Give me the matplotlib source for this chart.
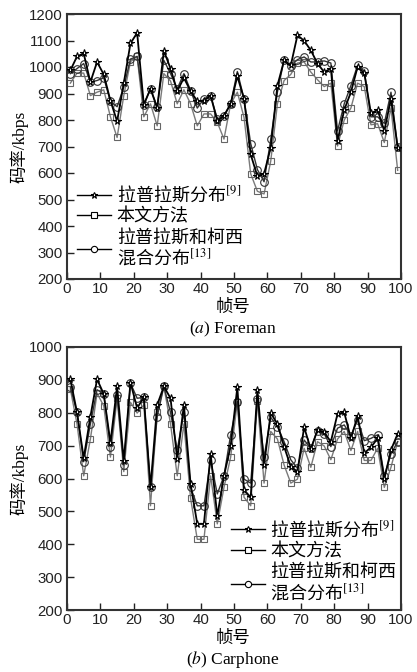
import matplotlib
matplotlib.use("Agg")
import matplotlib.pyplot as plt
from matplotlib.lines import Line2D

plt.rcParams['font.family'] = ['Liberation Sans', 'Noto Sans CJK SC']
plt.rcParams['mathtext.fontset'] = 'stix'

frames = list(range(1, 100, 2))

# (a) Foreman
fore_laplace = [987, 1040, 1051, 943, 1019, 972, 873, 795, 939, 1089,
                1129, 858, 918, 845, 1061, 994, 909, 959, 909, 871,
                873, 892, 797, 816, 861, 965, 880, 670, 588, 597,
                696, 930, 1025, 1006, 1120, 1099, 1063, 1013, 981, 994,
                721, 838, 905, 1000, 977, 825, 838, 759, 880, 696]
fore_ours = [939, 977, 977, 892, 905, 914, 812, 734, 892, 1020,
             1040, 812, 861, 778, 975, 947, 861, 914, 861, 778,
             823, 823, 791, 728, 861, 905, 810, 597, 531, 521,
             645, 861, 949, 972, 1015, 1019, 981, 952, 926, 939,
             702, 800, 845, 939, 926, 782, 786, 715, 846, 610]
fore_mixed = [975, 994, 1013, 943, 949, 959, 871, 850, 924, 1030,
              1040, 858, 918, 850, 1025, 975, 918, 975, 911, 845,
              880, 892, 804, 816, 861, 983, 880, 711, 613, 567,
              727, 905, 1028, 1003, 1028, 1038, 1019, 1019, 1023, 1015,
              759, 861, 930, 1006, 985, 812, 812, 787, 905, 698]

# (b) Carphone
car_laplace = [902, 801, 662, 788, 902, 857, 709, 880, 654, 892,
               814, 847, 573, 824, 880, 844, 659, 824, 583, 462,
               462, 675, 486, 608, 699, 878, 565, 543, 870, 641,
               799, 766, 697, 636, 621, 756, 689, 748, 740, 712,
               797, 801, 722, 790, 677, 695, 722, 598, 687, 736]
car_ours = [872, 766, 608, 720, 859, 821, 665, 844, 621, 832,
            799, 824, 517, 801, 880, 766, 608, 766, 540, 415,
            415, 608, 462, 573, 665, 834, 543, 517, 837, 586,
            743, 720, 641, 586, 598, 692, 634, 712, 699, 657,
            720, 743, 685, 743, 655, 655, 692, 573, 634, 712]
car_mixed = [878, 801, 651, 766, 870, 857, 697, 854, 641, 890,
             844, 847, 573, 788, 880, 801, 687, 801, 573, 517,
             517, 655, 553, 608, 733, 834, 598, 586, 841, 665,
             786, 758, 712, 657, 631, 717, 692, 746, 736, 697,
             753, 763, 730, 778, 715, 722, 733, 608, 675, 712]

labels = ['拉普拉斯分布$^{[9]}$', '本文方法', '拉普拉斯和柯西\n混合分布$^{[13]}$']
xticks = list(range(0, 101, 10))
captions = ['($\\mathit{a}$) Foreman', '($\\mathit{b}$) Carphone']

W, H = 417, 672
fig = plt.figure(figsize=(W / 100, H / 100), dpi=100)

def ax_rect(l, t, r, b):
    return [l / W, 1 - b / H, (r - l) / W, (b - t) / H]

ax1 = fig.add_axes(ax_rect(67, 14, 401, 279))
ax2 = fig.add_axes(ax_rect(67, 347, 401, 610))

star_kw = dict(color='black', lw=1.3, marker='*', ms=5.5, mfc='white', mec='black', mew=0.8)
sq_kw = dict(color='#7a7a7a', lw=1.0, marker='s', ms=5, mfc='none', mec='#666666', mew=0.8)
ci_kw = dict(color='#333333', lw=1.0, marker='o', ms=5.5, mfc='none', mec='#333333', mew=0.8)

def style(ax, ylim, yticks, bottom_px, caption):
    ax.set_xlim(0, 100)
    ax.set_ylim(*ylim)
    ax.set_xticks(xticks)
    ax.set_yticks(yticks)
    ax.tick_params(direction='in', length=5, width=1, labelsize=10.8, colors='#222222')
    ax.tick_params(axis='x', pad=2)
    ax.tick_params(axis='y', pad=3)
    for s in ax.spines.values():
        s.set_linewidth(1.5)
        s.set_color('#333333')
    ax.set_ylabel('码率/kbps', fontsize=12.5, family=['Liberation Serif', 'Noto Sans CJK SC'], labelpad=0)
    fig.text(233 / W, 1 - (bottom_px + 28) / H, '帧号', ha='center', va='center',
             fontsize=12.5, family=['Noto Sans CJK SC'])
    fig.text(233 / W, 1 - (bottom_px + 50) / H, caption, ha='center', va='center',
             fontsize=12.5, family='Liberation Serif')

for ax, lap, ours, mix, ylim, yt, bpx, cap in [
        (ax1, fore_laplace, fore_ours, fore_mixed, (200, 1200), list(range(200, 1201, 100)), 279, captions[0]),
        (ax2, car_laplace, car_ours, car_mixed, (200, 1000), list(range(200, 1001, 100)), 610, captions[1])]:
    ax.plot(frames, ours, zorder=2, **sq_kw)
    ax.plot(frames, mix, zorder=3, **ci_kw)
    ax.plot(frames, lap, zorder=4, **star_kw)
    style(ax, ylim, yt, bpx, cap)

handles = [Line2D([], [], color='black', lw=1.0, marker='*', ms=5, mfc='white', mec='black', mew=0.8),
           Line2D([], [], color='black', lw=1.0, marker='s', ms=4.5, mfc='white', mec='black', mew=0.8),
           Line2D([], [], color='black', lw=1.0, marker='o', ms=4.5, mfc='white', mec='black', mew=0.8)]

leg_kw = dict(frameon=False, handlelength=1.9, handletextpad=0.3,
              labelspacing=0.15, borderaxespad=0, borderpad=0,
              prop={'family': ['Noto Sans CJK SC'], 'size': 13})
for ax, anchor in [(ax1, (0.03, 0.357)), (ax2, (0.49, 0.345))]:
    leg = ax.legend(handles, labels, loc='upper left', bbox_to_anchor=anchor, **leg_kw)
    for t in leg.get_texts():
        t.set_linespacing(1.05)

fig.savefig('out.png', dpi=100)
